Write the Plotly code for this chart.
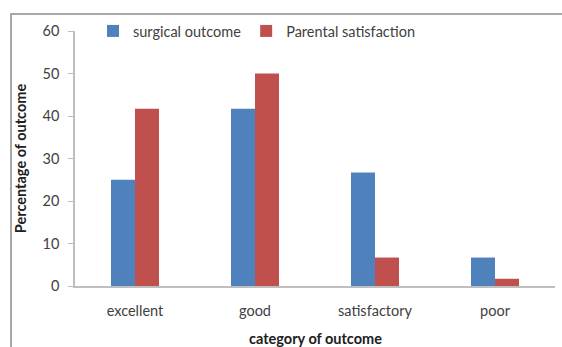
import plotly.graph_objects as go

categories = ["excellent", "good", "satisfactory", "poor"]
surgical = [25, 41.7, 26.7, 6.7]
parental = [41.7, 50, 6.7, 1.7]
y_ticks = [0, 10, 20, 30, 40, 50, 60]
x_title = "category of outcome"
y_title = "Percentage of outcome"

FONT = "Lato"
FS = 14.5
fig = go.Figure()
fig.add_trace(go.Bar(name="surgical outcome", x=categories, y=surgical,
                     marker=dict(color="#4F81BD", line=dict(width=0))))
fig.add_trace(go.Bar(name="Parental satisfaction", x=categories, y=parental,
                     marker=dict(color="#C0504D", line=dict(width=0))))

fig.update_layout(
    width=562, height=347,
    margin=dict(l=75, r=7, t=31, b=61),
    paper_bgcolor="white", plot_bgcolor="white",
    barmode="group", bargap=0.6, bargroupgap=0,
    font=dict(family=FONT, size=FS, color="#404040"),
    legend=dict(orientation="h", x=0.0375, y=1.0, xanchor="left", yanchor="middle",
                font=dict(family=FONT, size=FS, color="#404040"),
                bgcolor="rgba(0,0,0,0)", itemwidth=30),
    xaxis=dict(showline=True, linecolor="#BFBFBF", linewidth=1.5, ticks="",
               automargin=False, ticklabelstandoff=11,
               tickfont=dict(family=FONT, size=FS, color="#404040")),
    yaxis=dict(range=[0, 60], tickvals=y_ticks, showgrid=False, zeroline=False,
               showline=True, linecolor="#BFBFBF", linewidth=1.5,
               automargin=False,
               ticks="outside", ticklen=5, tickcolor="#BFBFBF",
               ticklabelstandoff=6,
               tickfont=dict(family=FONT, size=FS, color="#404040"),
               title=dict(text="<b>" + y_title + "</b>", standoff=12,
                          font=dict(family=FONT, size=FS, color="#202020"))),
    annotations=[dict(text="<b>" + x_title + "</b>", xref="paper", yref="paper",
                      x=0.5, y=-0.207, xanchor="center", yanchor="middle",
                      showarrow=False,
                      font=dict(family=FONT, size=FS, color="#202020"))],
    shapes=[dict(type="path", xref="paper", yref="paper",
                 path="M -0.1333,-0.4 L -0.1333,1.0667 L 1.2,1.0667",
                 line=dict(color="#8C8C8C", width=1.5))],
)

fig.write_html("out.html")
